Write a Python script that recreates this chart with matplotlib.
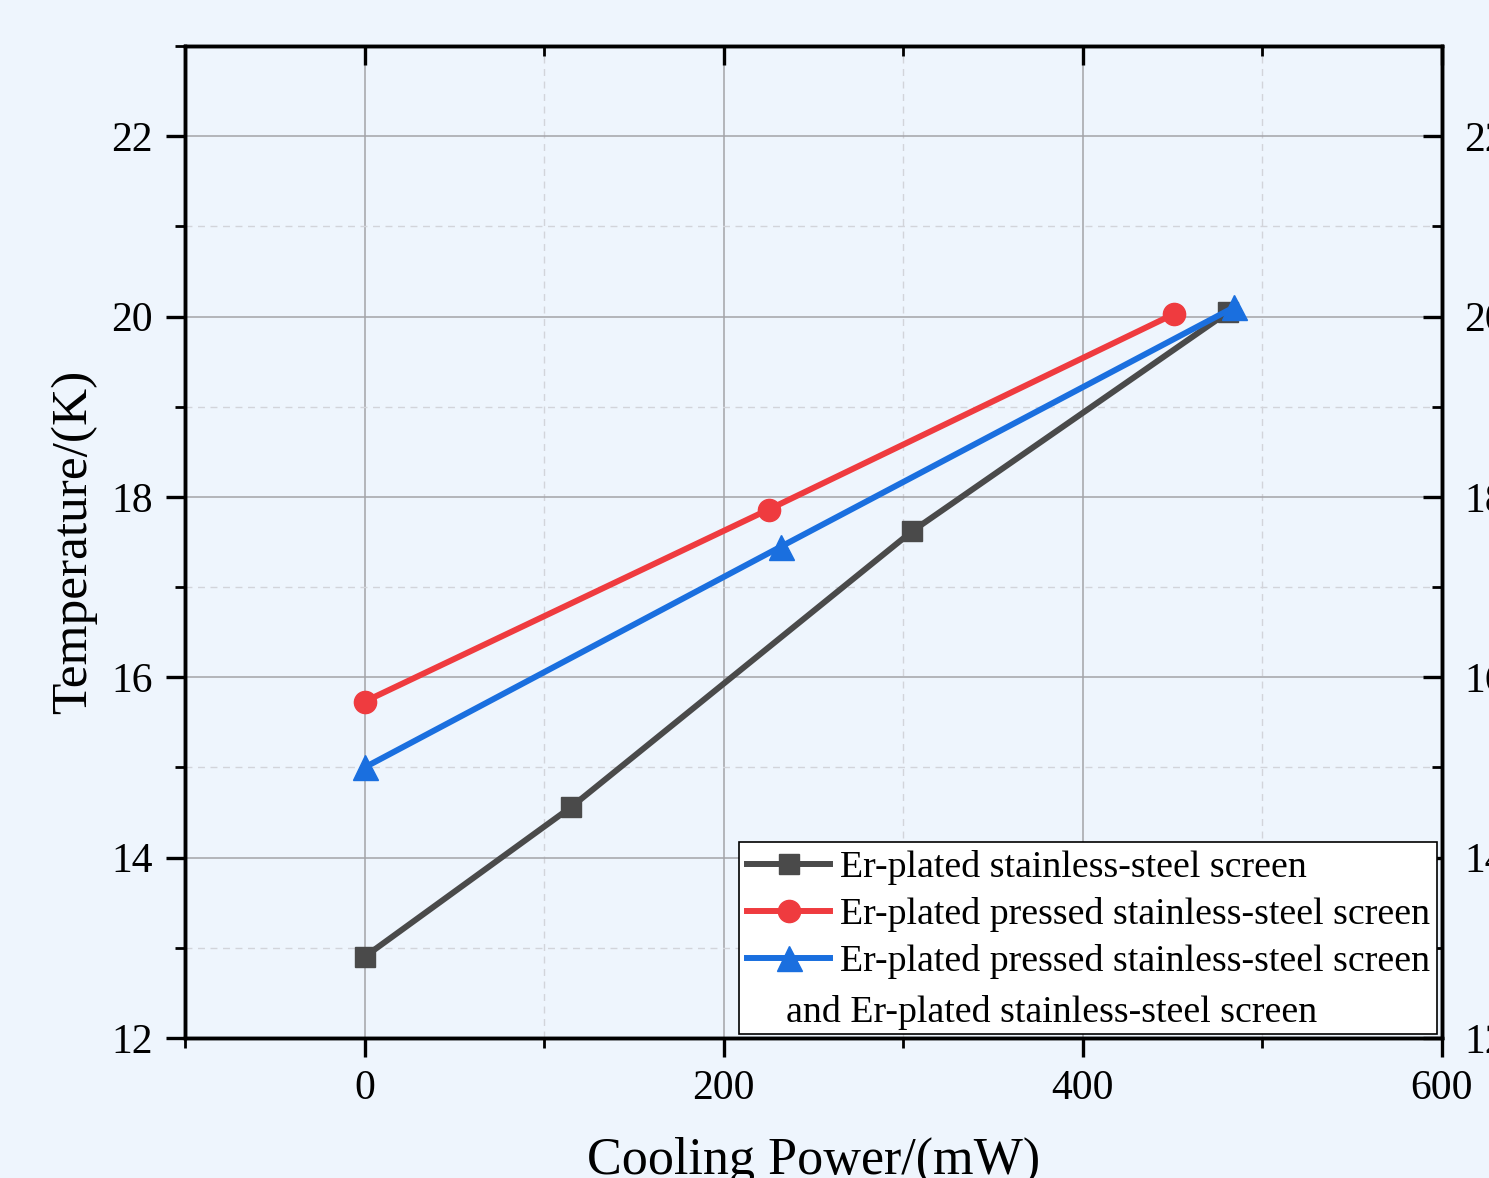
import matplotlib

matplotlib.use("Agg")
import matplotlib.pyplot as plt
from matplotlib.ticker import MultipleLocator
import numpy as np

# cooling power (mW) vs temperature (K)
power_ss = [0, 115, 305, 481]
temp_ss = [12.90, 14.56, 17.62, 20.05]
power_pressed = [0, 225, 451]
temp_pressed = [15.73, 17.86, 20.03]
power_mixed = [0, 232, 484]
temp_mixed = [15.00, 17.45, 20.10]

labels = ["Er-plated stainless-steel screen",
          "Er-plated pressed stainless-steel screen",
          "Er-plated pressed stainless-steel screen"]
label_extra = "and Er-plated stainless-steel screen"

BG = "#eef5fd"
plt.rcParams.update({
    "font.family": ["Liberation Serif", "DejaVu Serif"],
    "font.size": 28,
})

fig = plt.figure(figsize=(14.89, 11.78), dpi=100, facecolor=BG)
ax = fig.add_axes([0.1242, 0.1188, 0.8442, 0.8422], facecolor=BG)

ax.plot(power_ss, temp_ss, color="#4a4a4a", lw=4.3, marker="s", ms=15,
        label=labels[0], zorder=3)
ax.plot(power_pressed, temp_pressed, color="#ef3b3f", lw=4.3, marker="o", ms=16,
        label=labels[1], zorder=3)
ax.plot(power_mixed, temp_mixed, color="#1a6fdf", lw=4.3, marker="^", ms=18,
        label=labels[2], zorder=4)

ax.set_xlim(-100, 600)
ax.set_ylim(12, 23)
ax.xaxis.set_major_locator(MultipleLocator(200))
ax.xaxis.set_minor_locator(MultipleLocator(100))
ax.yaxis.set_major_locator(MultipleLocator(2))
ax.yaxis.set_minor_locator(MultipleLocator(1))

ax.grid(which="major", color="#a3a3a8", lw=1.1, ls="-", zorder=0)
ax.grid(which="minor", color="#d2d4da", lw=1.0, ls=(0, (5, 4)), zorder=0)
ax.set_axisbelow(True)

for s in ax.spines.values():
    s.set_linewidth(2.4)
ax.tick_params(which="major", direction="out", length=14, width=2.4, pad=9,
               labelsize=30)
ax.tick_params(which="minor", direction="out", length=7, width=2.0)

# right / top: ticks pointing inward, right side labelled
axr = ax.twinx()
axr.set_ylim(ax.get_ylim())
axr.yaxis.set_major_locator(MultipleLocator(2))
axr.yaxis.set_minor_locator(MultipleLocator(1))
axr.tick_params(which="major", direction="in", length=14, width=2.4, pad=16,
                labelsize=30)
axr.tick_params(which="minor", direction="in", length=7, width=2.0)
axt = ax.twiny()
axt.set_xlim(ax.get_xlim())
axt.xaxis.set_major_locator(MultipleLocator(200))
axt.xaxis.set_minor_locator(MultipleLocator(100))
axt.tick_params(which="major", direction="in", length=14, width=2.4, labeltop=False)
axt.tick_params(which="minor", direction="in", length=7, width=2.0)
for a in (axr, axt):
    for s in a.spines.values():
        s.set_linewidth(2.4)

ax.set_xlabel("Cooling Power/(mW)", fontsize=37.5, labelpad=20)
ax.set_ylabel("Temperature/(K)", fontsize=37, labelpad=10)

h, l = ax.get_legend_handles_labels()
blank, = ax.plot([], [], color="none")
leg = axt.legend(h + [blank], l + [" "], loc="lower right", fontsize=27.3,
                 frameon=True, fancybox=False, edgecolor="black", facecolor="white",
                 framealpha=1, borderaxespad=0.12, handlelength=2.2,
                 handletextpad=0.25, labelspacing=0.32, borderpad=0.2)
leg.get_frame().set_linewidth(1.2)
leg.set_zorder(10)
axt.text(0.478, 0.026, label_extra, transform=ax.transAxes, fontsize=27.3,
         ha="left", va="center", zorder=11)

fig.savefig("out.png", dpi=100, facecolor=BG)
